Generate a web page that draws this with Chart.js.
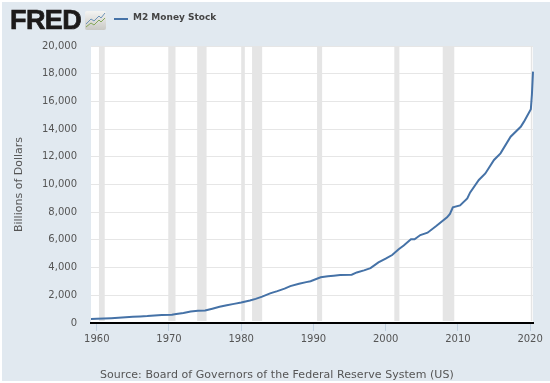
<!DOCTYPE html>
<html>
<head>
<meta charset="utf-8">
<style>
  html, body { margin: 0; padding: 0; background: #fff; }
  #wrap { position: absolute; left: 2px; top: 2px; width: 548px; height: 379px; background: #e1e9f0; }
  #myChart { position: absolute; left: 0; top: 0; }
  .txt { position: absolute; white-space: nowrap; }
  #logo { left: 10px; top: 5px; font: bold 27px "Liberation Sans"; letter-spacing: -0.6px; color: #1c1a1a; -webkit-text-stroke: 0.7px #1c1a1a; }
  #icon { position: absolute; left: 85px; top: 11px; }
  #swatch { position: absolute; left: 114px; top: 18px; width: 14px; height: 2px; background: #4572a7; }
  #legend { left: 133px; top: 12px; font: bold 9px "DejaVu Sans"; color: #444; }
  #source { left: 100px; top: 368px; font: 11px "DejaVu Sans"; letter-spacing: 0.05px; color: #555; }
</style>
</head>
<body>
<div id="wrap"></div>
<canvas id="myChart" width="550" height="383"></canvas>
<div class="txt" id="logo">FRED</div>
<svg id="icon" width="21" height="19" viewBox="0 0 21 19">
  <defs><linearGradient id="g" x1="0" y1="0" x2="0" y2="1"><stop offset="0" stop-color="#f4f4f2"/><stop offset="1" stop-color="#c9c9c5"/></linearGradient></defs>
  <rect width="21" height="19" rx="2" fill="url(#g)"/>
  <polyline points="1,13 6,8 9,10 14,5 16,7 20,2" fill="none" stroke="#6c93b8" stroke-width="1"/>
  <polyline points="1,16 6,12 9,14 14,9 16,11 20,7" fill="none" stroke="#84a85a" stroke-width="1"/>
</svg>
<div id="swatch"></div>
<div class="txt" id="legend">M2 Money Stock</div>
<div class="txt" id="source">Source: Board of Governors of the Federal Reserve System (US)</div>
<script src="https://cdn.jsdelivr.net/npm/chart.js@4"></script>
<script>
// valores
const years = [1959.2, 1960, 1961, 1962, 1963, 1964, 1965, 1966, 1967, 1968, 1969, 1970.4, 1971, 1972, 1973, 1974, 1975,
  1976, 1977, 1978, 1979, 1980, 1981.2, 1982, 1982.9, 1984, 1985, 1986, 1986.8, 1988, 1989, 1989.6, 1991, 1992, 1992.8,
  1993.7, 1995.3, 1996, 1997, 1997.9, 1999, 2000, 2000.9, 2001.8, 2002.5, 2003.5, 2004, 2004.8, 2005.8, 2007, 2008.5,
  2008.9, 2009.3, 2010.3, 2011.3, 2011.7, 2012.9, 2013.8, 2015, 2015.9, 2017.3, 2018.7, 2019.15, 2020.1, 2020.25, 2020.4];
const m2 = [295, 305, 320, 345, 375, 410, 445, 475, 505, 550, 585, 590, 650, 730, 830, 880, 900,
  1030, 1170, 1280, 1380, 1480, 1620, 1740, 1900, 2140, 2300, 2480, 2660, 2830, 2950, 3020, 3300, 3380, 3420,
  3466, 3490, 3650, 3800, 3960, 4380, 4640, 4910, 5320, 5600, 6040, 6040, 6350, 6520, 7000, 7630,
  7870, 8350, 8490, 9000, 9430, 10325, 10800, 11770, 12250, 13450, 14170, 14540, 15430, 16500, 18150];
const recessionStart = [1960.3, 1969.9, 1973.9, 1980.0, 1981.5, 1990.5, 2001.2, 2007.9, 2020.1];
const recessionEnd = [1961.1, 1970.9, 1975.2, 1980.5, 1982.9, 1991.2, 2001.9, 2009.5, 2020.3];
const yearTicks = [1960, 1970, 1980, 1990, 2000, 2010, 2020];

const font = { family: 'DejaVu Sans', size: 10 };

// fondo blanco del area y franjas de recesion
const bands = {
    id: 'bands',
    beforeDraw(chart) {
        const a = chart.chartArea;
        chart.ctx.fillStyle = '#fff';
        chart.ctx.fillRect(a.left, a.top, a.width, a.height);
    },
    beforeDatasetsDraw(chart) {
        const a = chart.chartArea;
        const x = chart.scales.x;
        chart.ctx.fillStyle = '#e5e5e5';
        recessionStart.forEach((start, i) => {
            const x0 = x.getPixelForValue(start);
            const x1 = x.getPixelForValue(recessionEnd[i]);
            chart.ctx.fillRect(x0, a.top, x1 - x0, a.height - 2);
        });
    }
};

new Chart(document.getElementById('myChart').getContext('2d'), {
    type: 'line',
    data: {
        datasets: [{
            label: 'M2 Money Stock',
            data: years.map((y, i) => ({ x: y, y: m2[i] })),
            borderColor: '#4572a7',
            borderWidth: 2,
            pointRadius: 0,
            tension: 0,
            fill: false,
            clip: false,
        }],
    },
    options: {
        responsive: false,
        animation: false,
        layout: { padding: { top: 46, right: 17, left: 0, bottom: 0 } },
        plugins: { legend: { display: false }, tooltip: { enabled: false } },
        scales: {
            x: {
                type: 'linear',
                min: 1959.2,
                max: 2020.4,
                afterBuildTicks: (s) => { s.ticks = yearTicks.map((v) => ({ value: v })); },
                afterFit: (s) => { s.height = 60; },
                grid: { drawOnChartArea: false, color: '#c0d0e0', tickLength: 8 },
                border: { color: '#000', width: 2 },
                ticks: { color: '#555', font, padding: 2, maxRotation: 0, autoSkip: false, callback: (v) => String(v) },
            },
            y: {
                min: 0,
                max: 20000,
                afterFit: (s) => { s.width = 91; },
                grid: { color: '#e6e6e6', drawTicks: false, lineWidth: 1 },
                border: { display: false },
                ticks: { color: '#555', font, stepSize: 2000, padding: 14 },
                title: { display: true, text: 'Billions of Dollars', color: '#555', font: { family: 'DejaVu Sans', size: 11 }, padding: { top: 13, bottom: 0 } },
            },
        },
    },
    plugins: [bands],
});
</script>
</body>
</html>
